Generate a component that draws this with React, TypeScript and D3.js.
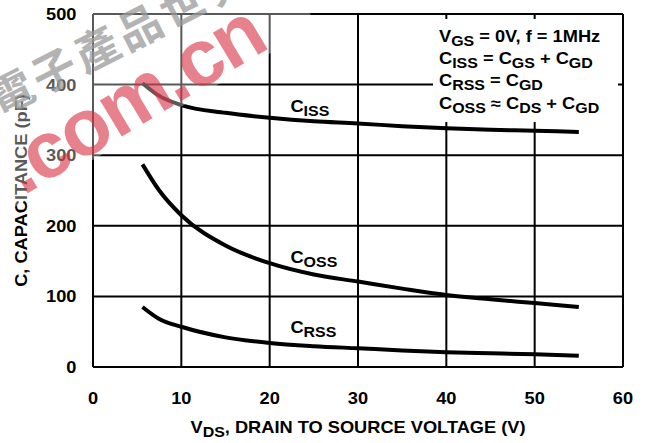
import React from 'react'
import { scaleLinear, line, curveMonotoneX } from 'd3'

const vds = [5.6, 7.5, 10, 15, 20, 25, 30, 35, 40, 45, 50, 55]
const ciss = [402, 384, 371, 360, 353, 348, 345, 341, 338, 336, 334.5, 333]
const coss = [287, 250, 215, 172, 147, 131, 121, 111, 102, 96, 90.5, 85]
const crss = [85, 68, 57, 42, 34, 29.5, 26.5, 23.5, 21, 19.5, 18, 16]

const xTicks = [0, 10, 20, 30, 40, 50, 60]
const yTicks = [0, 100, 200, 300, 400, 500]

const width = 651
const height = 443
const margin = { top: 14, right: 28, bottom: 76, left: 93 }
const innerWidth = width - margin.left - margin.right
const innerHeight = height - margin.top - margin.bottom

const font = 'Liberation Sans, Arial, Helvetica, sans-serif'
const SX = 1.14 // source type is a bit wider than Arial

type Part = string | [string]

// strings are normal text, [string] is a subscript
const rich = (parts: Part[]) => {
  let shift = 0
  return parts.map((p, i) => {
    if (Array.isArray(p)) {
      const dy = 4 - shift
      shift = 4
      return <tspan key={i} fontSize={14} dy={dy}>{p[0]}</tspan>
    }
    const dy = -shift
    shift = 0
    return <tspan key={i} dy={dy}>{p}</tspan>
  })
}

type TProps = { x: number; y: number; anchor?: string; rotate?: number; parts: Part[] }
const T = ({ x, y, anchor = 'start', rotate, parts }: TProps) => (
  <text
    transform={`translate(${x},${y})${rotate ? ` rotate(${rotate})` : ''} scale(${SX},1)`}
    textAnchor={anchor}
    fontSize={16}
    fill="#000"
  >
    {rich(parts)}
  </text>
)

export default function App() {
  const x = scaleLinear().domain([0, 60]).range([0, innerWidth])
  const y = scaleLinear().domain([0, 500]).range([innerHeight, 0])

  const path = line<number>()
    .x((_, i) => x(vds[i]))
    .y(d => y(d))
    .curve(curveMonotoneX)

  const series = [
    { name: 'ISS', values: ciss, labelX: 22.35, labelY: 361.5 },
    { name: 'OSS', values: coss, labelX: 22.35, labelY: 147.5 },
    { name: 'RSS', values: crss, labelX: 22.35, labelY: 48.5 },
  ]

  return (
    <svg width={width} height={height} style={{ position: 'absolute', left: 0, top: 0, background: '#fff' }}>
      <g transform={`translate(${margin.left},${margin.top})`} fontFamily={font} fontWeight="bold">
        {xTicks.map(t => (
          <line key={'x' + t} x1={x(t)} x2={x(t)} y1={0} y2={innerHeight} stroke="#000" strokeWidth={2} />
        ))}
        {yTicks.map(t => (
          <line key={'y' + t} x1={0} x2={innerWidth} y1={y(t)} y2={y(t)} stroke="#000" strokeWidth={2} />
        ))}
        {/* legend box hides the grid */}
        <rect x={340} y={5} width={185} height={103} fill="#fff" />
        <line x1={0} x2={innerWidth} y1={0} y2={0} stroke="#000" strokeWidth={2} />
        <line x1={innerWidth} x2={innerWidth} y1={0} y2={innerHeight} stroke="#000" strokeWidth={2} />

        {series.map(s => (
          <path key={s.name} d={path(s.values) || ''} fill="none" stroke="#000" strokeWidth={4} />
        ))}
        {series.map(s => (
          <T key={'l' + s.name} x={x(s.labelX)} y={y(s.labelY)} parts={['C', [s.name]]} />
        ))}

        <T x={346} y={27.7} parts={['V', ['GS'], ' = 0V, f = 1MHz']} />
        <T x={346} y={49.5} parts={['C', ['ISS'], ' = C', ['GS'], ' + C', ['GD']]} />
        <T x={346} y={72} parts={['C', ['RSS'], ' = C', ['GD']]} />
        <T x={346} y={95.3} parts={['C', ['OSS'], ' ≈ C', ['DS'], ' + C', ['GD']]} />

        {yTicks.map(t => (
          <T key={'yl' + t} x={-16.5} y={y(t) + 6} anchor="end" parts={[String(t)]} />
        ))}
        {xTicks.map(t => (
          <T key={'xl' + t} x={x(t)} y={innerHeight + 37} anchor="middle" parts={[String(t)]} />
        ))}
        <T
          x={innerWidth / 2}
          y={innerHeight + 66}
          anchor="middle"
          parts={['V', ['DS'], ', DRAIN TO SOURCE VOLTAGE (V)']}
        />
        <T x={-66.5} y={innerHeight / 2} rotate={-90} anchor="middle" parts={['C, CAPACITANCE (pF)']} />
      </g>

      {/* watermark */}
      <g transform="translate(23,196) rotate(-31)">
        <rect x={-60} y={-125} width={400} height={130} fill="#fff" opacity={0.35} />
      </g>
      <text
        transform="translate(-1,117) rotate(-27)"
        fontFamily="Noto Sans CJK TC, sans-serif"
        fontWeight="bold"
        fontSize={44}
        letterSpacing={4}
        fill="#9a9a9a"
        opacity={0.75}
      >
        電子產品世界
      </text>
      <text
        transform="translate(23,196) rotate(-31)"
        fontFamily={font}
        fontWeight="bold"
        fontSize={80}
        letterSpacing={-2}
        fill="#d83040"
        opacity={0.6}
      >
        .com.cn
      </text>
    </svg>
  )
}
